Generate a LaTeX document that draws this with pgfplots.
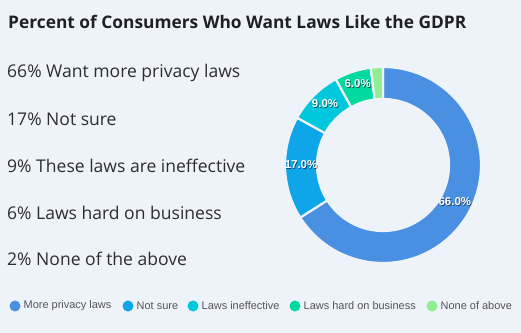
\documentclass[border=0pt]{standalone}
\usepackage{pgfplots}
\pgfplotsset{compat=1.18}
\usepackage{pgfplotstable}
\usepackage{fontspec}
\setmainfont{Open Sans}
\newfontfamily\legfont{Liberation Sans}
\definecolor{bg}{RGB}{238,243,250}
\definecolor{c1}{RGB}{74,144,226}
\definecolor{c2}{RGB}{14,165,233}
\definecolor{c3}{RGB}{0,200,220}
\definecolor{c4}{RGB}{0,217,160}
\definecolor{c5}{RGB}{144,238,144}
\definecolor{titlec}{RGB}{30,32,38}
\definecolor{txt}{RGB}{45,45,50}
\definecolor{legtxt}{RGB}{85,85,90}

\pgfplotstableread[col sep=comma]{
label,value,color,lx
More privacy laws,66,c1,15
Not sure,17,c2,128
Laws ineffective,9,c3,193
Laws hard on business,6,c4,295
None of above,2,c5,432
}\data

\begin{document}
\begin{tikzpicture}
\begin{axis}[
  scale only axis, width=521bp, height=333bp,
  xmin=0, xmax=521, ymin=0, ymax=333,
  hide axis, clip=false,
]
\fill[bg] (axis cs:0,0) rectangle (axis cs:521,333);
% title
\node[anchor=west, font=\bfseries\fontsize{17.4}{20}\selectfont, text=titlec, inner sep=0pt] at (axis cs:8,311) {Percent of Consumers Who Want Laws Like the GDPR};
% left text
\node[anchor=west, font=\fontsize{17.6}{20}\selectfont, text=txt, inner sep=0pt] at (axis cs:7,260) {66\% Want more privacy laws};
\node[anchor=west, font=\fontsize{17.6}{20}\selectfont, text=txt, inner sep=0pt] at (axis cs:7,214) {17\% Not sure};
\node[anchor=west, font=\fontsize{17.6}{20}\selectfont, text=txt, inner sep=0pt] at (axis cs:7,167) {9\% These laws are ineffective};
\node[anchor=west, font=\fontsize{17.6}{20}\selectfont, text=txt, inner sep=0pt] at (axis cs:7,120) {6\% Laws hard on business};
\node[anchor=west, font=\fontsize{17.6}{20}\selectfont, text=txt, inner sep=0pt] at (axis cs:7,74) {2\% None of the above};

\pgfplotstablegetrowsof{\data}
\pgfmathtruncatemacro\N{\pgfplotsretval-1}
\def\cum{0}
\pgfplotsforeachungrouped \i in {0,...,\N}{%
  \pgfplotstablegetelem{\i}{value}\of\data \let\v\pgfplotsretval
  \pgfplotstablegetelem{\i}{color}\of\data \let\col\pgfplotsretval
  \pgfplotstablegetelem{\i}{label}\of\data \let\lab\pgfplotsretval
  \pgfplotstablegetelem{\i}{lx}\of\data \let\lx\pgfplotsretval
  \pgfmathsetmacro\aA{90-3.6*\cum}%
  \pgfmathsetmacro\cum{\cum+\v}%
  \pgfmathsetmacro\aB{90-3.6*\cum}%
  \pgfmathsetmacro\aM{(\aA+\aB)/2}%
  \pgfmathsetmacro\xA{383+98*cos(\aA)}%
  \pgfmathsetmacro\yA{168+98*sin(\aA)}%
  \pgfmathsetmacro\xB{383+66*cos(\aB)}%
  \pgfmathsetmacro\yB{168+66*sin(\aB)}%
  \pgfmathsetmacro\xL{383+82*cos(\aM)}%
  \pgfmathsetmacro\yL{168+82*sin(\aM)+3}%
  \pgfmathsetmacro\xS{\xL+0.8}%
  \pgfmathsetmacro\yS{\yL-0.8}%
  \edef\temp{\noexpand\fill[\col, draw=bg, line width=2.2bp, line join=miter]
     (axis cs:\xA,\yA) arc[start angle=\aA, end angle=\aB, radius=98bp]
     -- (axis cs:\xB,\yB) arc[start angle=\aB, end angle=\aA, radius=66bp] -- cycle;
     \noexpand\fill[\col] (axis cs:\lx,27) circle[radius=5.5bp];
     \noexpand\node[anchor=west, inner sep=0pt, text=legtxt, font=\noexpand\legfont\noexpand\fontsize{11}{13}\noexpand\selectfont] at (axis cs:\lx+8.5,27) {\lab};}%
  \temp
  \pgfmathparse{\v>3?1:0}%
  \ifnum\pgfmathresult=1
  \edef\temp{\noexpand\node[text=black, opacity=0.55, font=\noexpand\legfont\noexpand\bfseries\noexpand\fontsize{11.5}{13}\noexpand\selectfont, inner sep=0pt] at (axis cs:\xS,\yS) {\noexpand\pgfmathprintnumber[fixed, fixed zerofill, precision=1, assume math mode=true]{\v}\noexpand\%};
     \noexpand\node[text=white, font=\noexpand\legfont\noexpand\bfseries\noexpand\fontsize{11.5}{13}\noexpand\selectfont, inner sep=0pt] at (axis cs:\xL,\yL) {\noexpand\pgfmathprintnumber[fixed, fixed zerofill, precision=1, assume math mode=true]{\v}\noexpand\%};}%
  \temp
  \fi
}
\end{axis}
\end{tikzpicture}
\end{document}
